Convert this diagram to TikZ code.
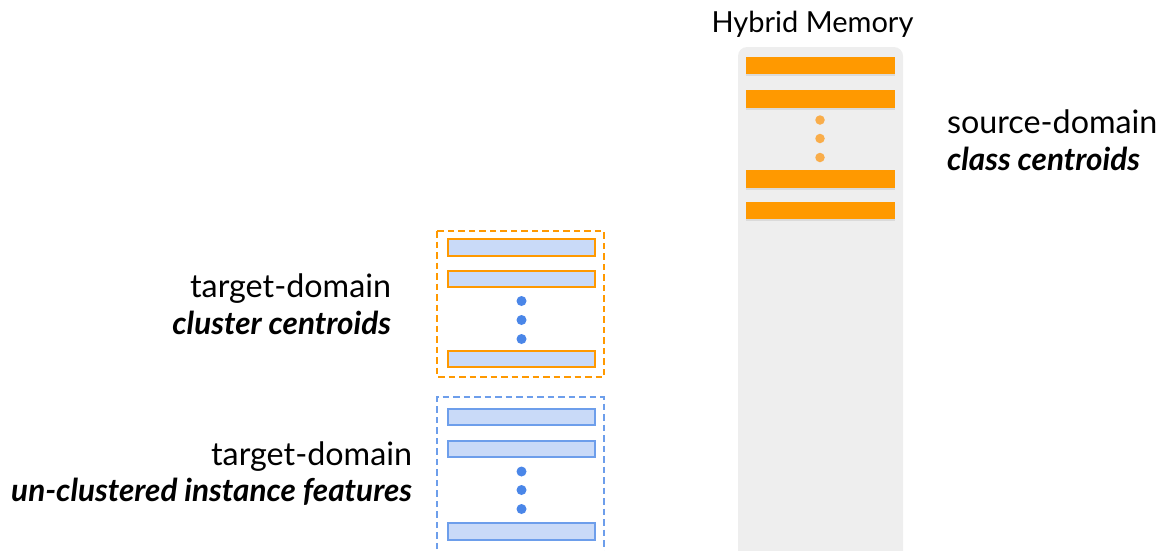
\documentclass[tikz,border=0pt]{standalone}
\usepackage{fontspec}
\setmainfont{Lato}
\usetikzlibrary{shadows}
\definecolor{memgray}{HTML}{EEEEEE}
\definecolor{orbar}{HTML}{FF9900}
\definecolor{ordot}{HTML}{F9AD4A}
\definecolor{bfill}{HTML}{C9DAF8}
\definecolor{bline}{HTML}{6D9EEB}
\definecolor{bdot}{HTML}{4A86E8}
\tikzset{
  title/.style={font=\fontsize{29}{34}\selectfont, inner sep=0pt, outer sep=0pt},
  lbl/.style={font=\fontsize{32.3}{36}\selectfont, inner sep=0pt, outer sep=0pt},
  lblb/.style={font=\fontsize{31.5}{36}\selectfont\bfseries\itshape, inner sep=0pt, outer sep=0pt},
  membar/.style={fill=orbar, minimum width=149pt, minimum height=17.5pt, inner sep=0pt, outer sep=0pt,
    drop shadow={opacity=0.18, shadow xshift=0pt, shadow yshift=-2pt}},
  obarbox/.style={fill=bfill, draw=orbar, line width=1.6pt, minimum width=147.5pt, minimum height=16.5pt, inner sep=0pt, outer sep=0pt},
  bbarbox/.style={fill=bfill, draw=bline, line width=1.6pt, minimum width=147.5pt, minimum height=16.5pt, inner sep=0pt, outer sep=0pt},
  odot/.style={circle, fill=ordot, minimum size=9.5pt, inner sep=0pt},
  bdotst/.style={circle, fill=bdot, minimum size=10pt, inner sep=0pt},
  dbox/.style={line width=2pt, dash pattern=on 6.5pt off 4pt}
}
\begin{document}
\begin{tikzpicture}[x=1pt,y=-1pt]
\useasboundingbox (0,0) rectangle (1161,550);
% hybrid memory
\fill[memgray, rounded corners=9pt] (738,47) rectangle (903,570);
\node[title, anchor=base] (hm) at (812.5,32) {Hybrid Memory};
\node[membar] (m1) at (820.5,65.7) {};
\node[membar] (m2) at (820.5,98.8) {};
\node[odot] (md1) at (820,120) {};
\node[odot] (md2) at (820,138.5) {};
\node[odot] (md3) at (820,157.5) {};
\node[membar] (m3) at (820.5,178.8) {};
\node[membar] (m4) at (820.5,210.7) {};
\node[lbl, anchor=base west] (sd) at (947,133) {source-domain};
\node[lblb, anchor=base west] (cc) at (947,170) {class centroids};
% target cluster centroids
\draw[dbox, color=orbar] (437,231) rectangle (604,377);
\node[obarbox] (c1) at (521.5,247.5) {};
\node[obarbox] (c2) at (521.5,279) {};
\node[bdotst] (cd1) at (521.5,301) {};
\node[bdotst] (cd2) at (521.5,320) {};
\node[bdotst] (cd3) at (521.5,339) {};
\node[obarbox] (c3) at (521.5,359) {};
\node[lbl, anchor=base east] (td1) at (391,297) {target-domain};
\node[lblb, anchor=base east] (tc1) at (391,334) {cluster centroids};
% un-clustered instances
\draw[dbox, color=bline] (437,570) -- (437,397) -- (604,397) -- (604,570);
\node[bbarbox] (u1) at (521.5,417) {};
\node[bbarbox] (u2) at (521.5,449) {};
\node[bdotst] (ud1) at (521.5,471.5) {};
\node[bdotst] (ud2) at (521.5,490) {};
\node[bdotst] (ud3) at (521.5,509) {};
\node[bbarbox] (u3) at (521.5,531.5) {};
\node[lbl, anchor=base east] (td2) at (412,465) {target-domain};
\node[lblb, anchor=base east] (tu2) at (412,501.5) {un-clustered instance features};
\end{tikzpicture}
\end{document}
